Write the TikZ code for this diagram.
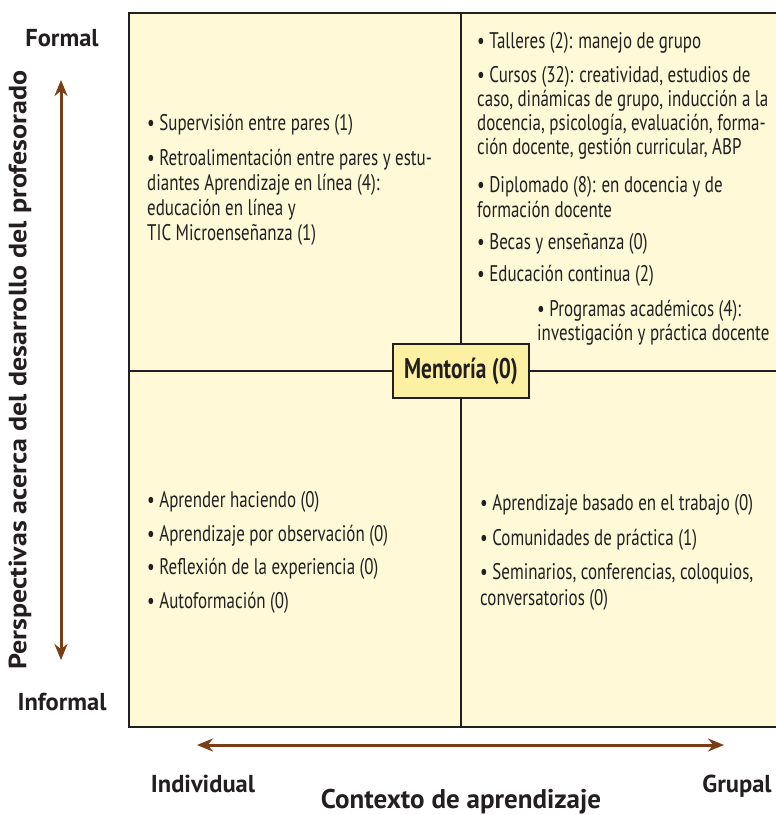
\documentclass[tikz,border=0pt]{standalone}
\usepackage{fontspec}
\setmainfont{PT Sans}
\newfontfamily\condf[FakeStretch=0.75]{PT Sans}
\newfontfamily\widef[FakeStretch=1.12]{PT Sans}
\usetikzlibrary{arrows.meta}
\definecolor{frame}{HTML}{231F20}
\definecolor{cream}{HTML}{FFF9D8}
\definecolor{ment}{HTML}{FCF0A2}
\definecolor{axis}{HTML}{7A3E17}
\definecolor{txt}{HTML}{231F20}
\begin{document}
\begin{tikzpicture}[x=1pt,y=1pt,
  line/.style={anchor=base west, inner sep=0pt, text=txt, font=\condf\fontsize{22.6}{24}\selectfont},
  axislabel/.style={inner sep=0pt, text=txt, font=\bfseries\fontsize{24.5}{26}\selectfont},
  axisarrow/.style={draw=axis, line width=3pt, {Stealth[length=16pt,width=13pt]}-{Stealth[length=16pt,width=13pt]}},
  divider/.style={draw=frame, line width=1.6pt},
  mentbox/.style={draw=frame, line width=2.2pt, fill=ment, minimum width=136pt, minimum height=54pt, inner sep=0pt, text=txt, font=\condf\bfseries\fontsize{28.5}{30}\selectfont}]
\useasboundingbox (0,0) rectangle (776,-815);
\fill[white] (0,0) rectangle (776,-815);
% frame
\fill[cream] (129,-13) rectangle (776,-727);
\coordinate (vt) at (461,-13);
\coordinate (vb) at (461,-727);
\coordinate (hl) at (129,-371);
\coordinate (hr) at (776,-371);
\draw[divider] (vt) -- (vb);
\draw[divider] (hl) -- (hr);
\draw[draw=frame, line width=2.6pt] (776,-13) -- (129,-13) -- (129,-727) -- (776,-727);
% mentoria
\node[mentbox] (ment) at (461,-371) {Mentoría (0)};
% top left
\node[line] (tl1) at (147,-130) {• Supervisión entre pares (1)};
\node[line] (tl2) at (147,-165) {• Retroalimentación entre pares y estu-};
\node[line] (tl3) at (147,-190) {diantes Aprendizaje en línea (4):};
\node[line] (tl4) at (147,-215) {educación en línea y};
\node[line] (tl5) at (147,-240) {TIC Microenseñanza (1)};
% top right
\node[line] (tr1) at (477,-48) {• Talleres (2): manejo de grupo};
\node[line] (tr2) at (477,-82) {• Cursos (32): creatividad, estudios de};
\node[line] (tr3) at (477,-106) {caso, dinámicas de grupo, inducción a la};
\node[line] (tr4) at (477,-130) {docencia, psicología, evaluación, forma-};
\node[line] (tr5) at (477,-154) {ción docente, gestión curricular, ABP};
\node[line] (tr6) at (477,-192) {• Diplomado (8): en docencia y de};
\node[line] (tr7) at (477,-217) {formación docente};
\node[line] (tr8) at (477,-249) {• Becas y enseñanza (0)};
\node[line] (tr9) at (477,-281) {• Educación continua (2)};
\node[line] (tr10) at (537,-316) {• Programas académicos (4):};
\node[line] (tr11) at (537,-340) {investigación y práctica docente};
% bottom left
\node[line] (bl1) at (147,-507) {• Aprender haciendo (0)};
\node[line] (bl2) at (147,-541) {• Aprendizaje por observación (0)};
\node[line] (bl3) at (147,-574) {• Reflexión de la experiencia (0)};
\node[line] (bl4) at (147,-608) {• Autoformación (0)};
% bottom right
\node[line] (br1) at (480,-510) {• Aprendizaje basado en el trabajo (0)};
\node[line] (br2) at (480,-545) {• Comunidades de práctica (1)};
\node[line] (br3) at (480,-579) {• Seminarios, conferencias, coloquios,};
\node[line] (br4) at (480,-605) {conversatorios (0)};
% axes
\coordinate (vtop) at (61,-80);
\coordinate (vbot) at (61,-660);
\draw[axisarrow] (vbot) -- (vtop);
\coordinate (hleft) at (197,-745);
\coordinate (hright) at (724,-745);
\draw[axisarrow] (hleft) -- (hright);
\node[axislabel] (formal) at (62,-38) {Formal};
\node[axislabel] (informal) at (62,-702) {Informal};
\node[axislabel, rotate=90, font=\widef\bfseries\fontsize{25}{26}\selectfont] (persp) at (20,-370) {Perspectivas acerca del desarrollo del profesorado};
\node[axislabel, anchor=base] (indiv) at (203,-792) {Individual};
\node[axislabel, anchor=base] (grupal) at (737,-792) {Grupal};
\node[axislabel, anchor=base, font=\bfseries\fontsize{27}{28}\selectfont] (ctx) at (461,-808) {Contexto de aprendizaje};
\end{tikzpicture}
\end{document}
